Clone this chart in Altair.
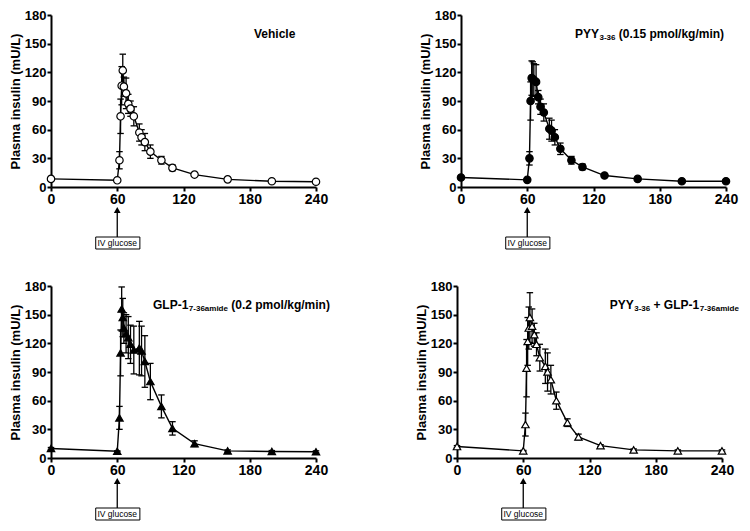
import altair as alt
import pandas as pd

# ---------------- data ----------------
times = [0, 60, 62, 63, 64, 65, 66, 68, 70, 72, 75, 80, 82, 85, 90, 100, 110, 130, 160, 200, 240]

veh_mean = [8.5, 7, 28, 74, 106, 122, 105, 98, 87, 82, 74, 57, 52, 47, 37, 28, 20, 13, 8, 6, 5.5]
veh_sem = [1, 0.5, 9, 18, 20, 17, 10, 16, 10, 8, 10, 9, 8, 9, 7, 4, 3, 1, 1, 1, 1]

pyy_mean = [10, 7.5, 30, 90, 114, 113, 112, 110, 94, 84, 78, 61, 59, 52, 40, 28, 21, 12, 8.5, 6, 6]
pyy_sem = [1, 0.5, 7, 20, 18, 18, 17, 18, 7, 8, 9, 11, 11, 8, 6, 4, 3, 1, 1, 1, 1]

glp_mean = [10, 7, 42, 110, 156, 147, 136, 130, 126, 119, 113, 115, 112, 101, 80, 54, 31, 15, 7.5, 6.8, 6.5]
glp_sem = [1, 0.5, 12, 24, 23, 20, 16, 20, 22, 20, 25, 28, 26, 27, 19, 12, 7, 3, 1, 1, 1]

comb_mean = [12, 7.5, 35, 94, 122, 136, 147, 138, 129, 119, 105, 96, 90, 82, 60, 37, 22, 13, 8.5, 7.5, 7.5]
comb_sem = [1, 0.5, 12, 30, 25, 22, 26, 18, 12, 12, 14, 18, 20, 15, 9, 4, 3, 1, 1, 1, 1]

x_ticks = [0, 60, 120, 180, 240]
y_ticks = [0, 30, 60, 90, 120, 150, 180]
y_title = "Plasma insulin (mU/L)"
glucose_time = 60
glucose_label = "IV glucose"

FONT = "Liberation Sans"
W, H = 265, 172
XS = alt.Scale(domain=[0, 240], nice=False, zero=False)
YS = alt.Scale(domain=[0, 180], nice=False)
XA = alt.Axis(values=x_ticks, title=None, labelFlush=False, labelOverlap=False, labelFontSize=14)
YA = alt.Axis(values=y_ticks, title=y_title, labelFlush=False, labelOverlap=False,
              tickCount=7, labelSeparation=0)


def panel(mean, sem, shape, fill, title_parts, title_x):
    df = pd.DataFrame({
        "t": times,
        "m": mean,
        "lo": [m - s for m, s in zip(mean, sem)],
        "hi": [m + s for m, s in zip(mean, sem)],
    })
    base = alt.Chart(df)
    X = alt.X("t:Q", scale=XS, axis=XA)
    bars = base.mark_rule(color="black", strokeWidth=1.3).encode(
        x=X, y=alt.Y("lo:Q", scale=YS, axis=YA), y2="hi:Q")
    cap_lo = base.mark_point(shape="stroke", size=42, color="black", strokeWidth=1.3, opacity=1).encode(
        x=X, y=alt.Y("lo:Q", scale=YS, axis=YA))
    cap_hi = base.mark_point(shape="stroke", size=42, color="black", strokeWidth=1.3, opacity=1).encode(
        x=X, y=alt.Y("hi:Q", scale=YS, axis=YA))
    line = base.mark_line(color="black", strokeWidth=1.4).encode(
        x=X, y=alt.Y("m:Q", scale=YS, axis=YA))
    pts = base.mark_point(shape=shape, size=55, filled=True, fill=fill, stroke="black",
                          strokeWidth=1.2, opacity=1).encode(
        x=X, y=alt.Y("m:Q", scale=YS, axis=YA))

    layers = [bars, cap_lo, cap_hi, line, pts]

    # panel title (pieces for subscripts), placed in the upper right of the panel
    for txt, size, dx, dy in title_parts:
        layers.append(
            alt.Chart().mark_text(text=txt, font=FONT, fontWeight="bold", fontSize=size,
                                  align="left", baseline="middle", dx=dx, dy=dy, color="black")
            .encode(x=alt.datum(title_x), y=alt.value(19))
        )

    # IV glucose arrow + boxed label under the x axis
    layers.append(alt.Chart().mark_rule(color="black", strokeWidth=1.3).encode(
        x=alt.datum(glucose_time), y=alt.value(H + 23), y2=alt.value(H + 50)))
    layers.append(alt.Chart().mark_point(shape="triangle-up", size=45, filled=True,
                                         color="black", opacity=1).encode(
        x=alt.datum(glucose_time), y=alt.value(H + 23)))
    layers.append(alt.Chart().mark_rect(fill="white", stroke="black", strokeWidth=1).encode(
        x=alt.datum(40.5), x2=alt.datum(80.5), y=alt.value(H + 50), y2=alt.value(H + 62)))
    layers.append(alt.Chart().mark_text(text=glucose_label, font=FONT, fontSize=8.5,
                                        baseline="middle", align="center", color="black").encode(
        x=alt.datum(glucose_time), y=alt.value(H + 56.3)))

    return alt.layer(*layers).properties(width=W, height=H)


p1 = panel(veh_mean, veh_sem, "circle", "white",
           [("Vehicle", 12, 0, 0)], 183.8)
p2 = panel(pyy_mean, pyy_sem, "circle", "black",
           [("PYY", 12, 0, 0), ("3-36", 8, 24.5, 4), ("(0.15 pmol/kg/min)", 12, 43.8, 0)], 103.2)
p3 = panel(glp_mean, glp_sem, "triangle-up", "black",
           [("GLP-1", 12, 0, 0), ("7-36amide", 8, 35.8, 4), ("(0.2 pmol/kg/min)", 12, 78.2, 0)], 92.4)
p4 = panel(comb_mean, comb_sem, "triangle-up", "white",
           [("PYY", 12, 0, 0), ("3-36", 8, 24.5, 4), ("+ GLP-1", 12, 43.8, 0), ("7-36amide", 8, 90, 4)], 138.3)

top = alt.hconcat(p1, p2, spacing=89)
bottom = alt.hconcat(p3, p4, spacing=83)

chart = alt.vconcat(top, bottom, spacing=29).properties(padding=0).configure_axis(
    domainColor="black", domainWidth=2, tickColor="black", tickWidth=2, tickSize=4,
    labelFont=FONT, labelFontWeight="bold", labelFontSize=13, labelColor="black",
    titleFont=FONT, titleFontWeight="bold", titleFontSize=13, titleColor="black",
    grid=False, labelPadding=1, titlePadding=2, labelOverlap=False,
).configure_view(stroke="transparent")

chart.save("out.html", embed_options={"renderer": "svg", "actions": False})
